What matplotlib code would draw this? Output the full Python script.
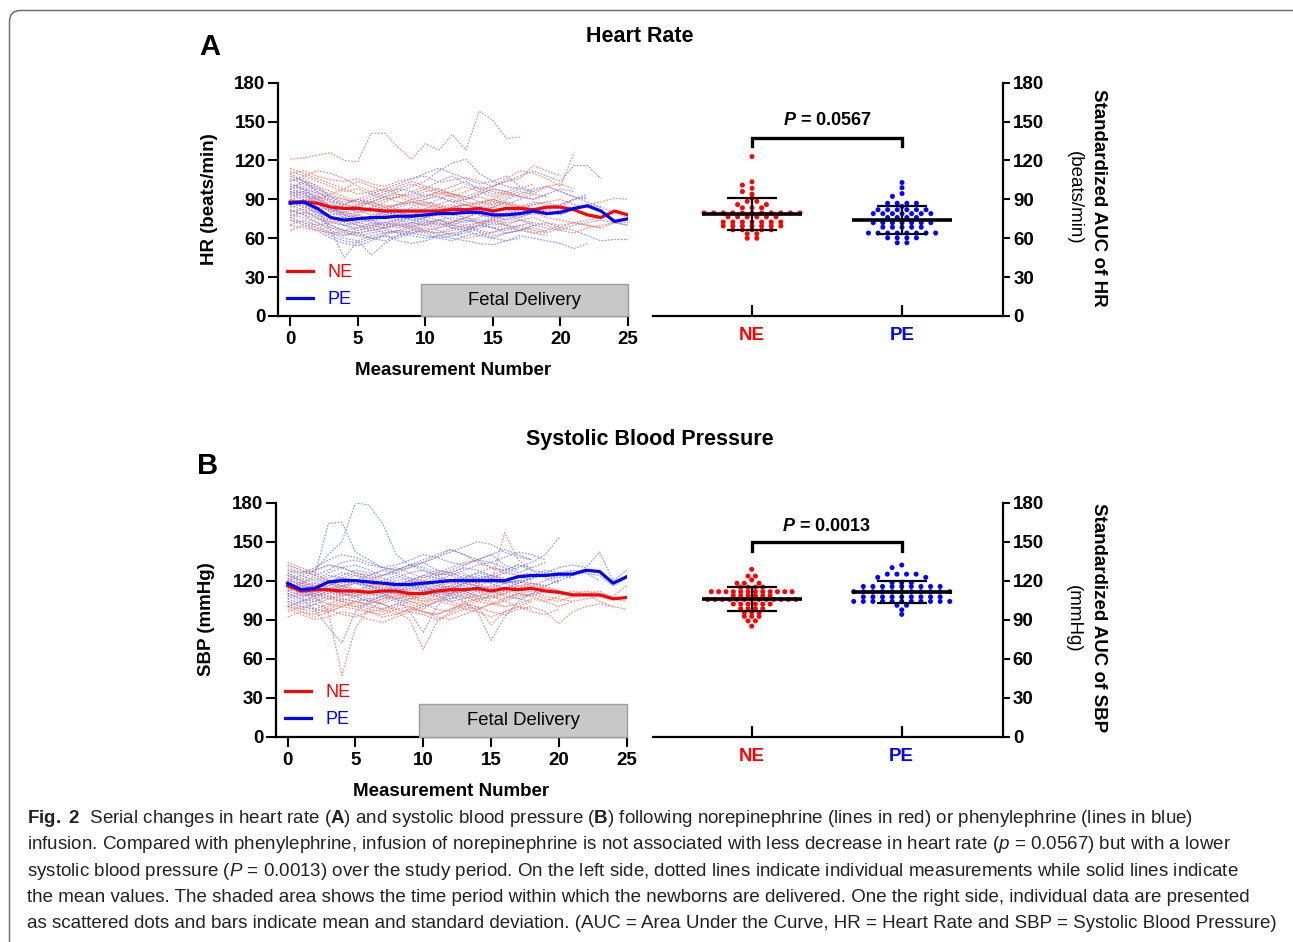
import numpy as np
import matplotlib
matplotlib.use("Agg")
import matplotlib.pyplot as plt
from matplotlib.patches import Rectangle, FancyBboxPatch
from matplotlib.transforms import IdentityTransform

plt.rcParams['font.family'] = 'Liberation Sans'
plt.rcParams['mathtext.fontset'] = 'custom'
plt.rcParams['mathtext.rm'] = 'Liberation Sans'
plt.rcParams['mathtext.bf'] = 'Liberation Sans:bold'
plt.rcParams['mathtext.it'] = 'Liberation Sans:italic'
plt.rcParams['mathtext.bfit'] = 'Liberation Sans:bold:italic'

# ---------------- data ----------------
measurement = list(range(26))

hr_ne_mean = [88, 88, 87, 84, 83, 83, 82, 81, 81, 81, 81, 81, 82, 82, 83, 81, 83, 83, 82, 84, 84, 82, 78, 76, 81, 78]
hr_pe_mean = [87, 88, 83, 76, 74, 75, 76, 76, 77, 77, 78, 79, 79, 80, 80, 78, 78, 79, 81, 79, 80, 83, 85, 81, 73, 75]
sbp_ne_mean = [116, 112, 113, 113, 112, 112, 111, 112, 112, 110, 110, 112, 113, 113, 114, 112, 114, 113, 114, 112, 111, 109, 109, 109, 106, 107]
sbp_pe_mean = [118, 113, 114, 119, 120, 120, 119, 118, 117, 117, 118, 119, 120, 120, 120, 120, 120, 123, 124, 124, 125, 125, 128, 127, 118, 123]

# individual patients (estimated traces, a subset of the spaghetti lines)
hr_ne_indiv = [
    [121, 122, 124, 126, 120, 119, 141, 141, 130, 121, 133, 128, 140, 128, 158, 151, 137, 138],
    [110, 112, 108, 105, 104, 106, 102, 100, 104, 106, 108, 103, 105, 107, 104, 100, 106, 112, 110, 106, 100, 126],
    [95, 96, 92, 88, 86, 90, 88, 84, 86, 88, 90, 92, 88, 85, 87, 90, 86, 84, 88, 86, 84, 82, 86, 88, 91, 90],
    [85, 82, 80, 76, 74, 72, 75, 78, 76, 74, 72, 70, 73, 76, 74, 72, 75, 78, 80, 76, 74, 72, 70, 68, 72, 70],
    [100, 98, 95, 92, 90, 88, 86, 90, 92, 88, 85, 82, 84, 86, 88, 90, 87, 84],
    [78, 76, 72, 68, 66, 64, 66, 68, 70, 67, 65, 64, 66, 68, 65, 62, 64, 66, 68, 65],
    [92, 94, 90, 94, 98, 104, 100, 96, 98, 102, 98, 94, 96, 100, 96, 92, 95],
    [70, 68, 66, 64, 65, 62, 60, 63, 65, 68, 66, 62, 64, 60, 62, 65, 68, 70, 66, 64, 68, 72, 70, 68],
    [88, 86, 84, 82, 80, 78, 82, 84, 80, 78, 80, 84, 82, 86, 84, 80, 82, 84, 86, 88, 90, 86, 84],
    [114, 110, 106, 102, 98, 94, 96, 92, 94, 90, 92, 96, 94, 90, 92, 88, 92, 96, 94, 100, 102, 98],
    [76, 80, 78, 74, 76, 78, 74, 72, 75, 78, 76, 74, 72, 70, 72, 75, 78, 74, 76, 72, 70, 72, 74, 76],
    [104, 108, 112, 110, 106, 100, 96, 98, 94, 92, 96, 98, 94, 92, 96, 100, 104, 106, 116, 112, 108],
    [82, 78, 75, 73, 70, 72, 70, 68, 71, 69, 72, 74, 70, 68, 70, 74, 72],
    [96, 92, 90, 86, 84, 80, 84, 86, 82, 80, 83, 86, 90, 86, 82, 84, 88, 85, 82, 80],
    [112, 108, 104, 100, 96, 98, 94, 90, 92, 96, 100, 98, 94, 90, 94, 98, 96, 92, 90, 94],
    [66, 70, 68, 64, 62, 66, 70, 68, 64, 66, 70, 72, 68, 66, 70, 74, 70, 68, 64, 66, 70],
    [90, 88, 92, 90, 86, 84, 88, 92, 88, 86, 90, 94, 92, 88, 86, 90, 94, 92, 96, 100, 96, 92, 90],
    [80, 84, 82, 78, 80, 76, 74, 78, 82, 80, 76, 80, 84, 82, 78, 76, 80],
    [98, 104, 100, 96, 92, 88, 92, 96, 100, 104, 100, 96, 92, 96, 100, 96, 94, 98, 102],
    [74, 72, 70, 72, 74, 70, 66, 68, 72, 70, 66, 68, 72, 76, 72, 68, 70, 74, 72, 70, 66, 64, 68, 70, 72, 72],
    [86, 90, 88, 84, 82, 84, 80, 76, 78, 82, 86, 84, 80, 78, 82, 86, 84, 80, 78, 82, 86, 90],
    [106, 102, 98, 94, 90, 86, 88, 84, 86, 90, 88, 84, 86, 82, 80, 84, 88],
]
hr_pe_indiv = [
    [104, 106, 100, 92, 86, 84, 88, 92, 96, 100, 104, 112, 118, 121, 110, 104, 100, 98, 96],
    [92, 96, 84, 66, 45, 58, 47, 56, 62, 64, 66, 64, 68, 70, 66, 64, 68, 66, 70, 72, 68, 66, 62, 58, 59, 59],
    [98, 100, 94, 84, 78, 80, 84, 88, 92, 94, 98, 104, 108, 102, 98, 100, 104, 108, 112, 108, 104, 116, 116, 106],
    [86, 90, 80, 72, 70, 68, 70, 72, 74, 72, 70, 74, 76, 74, 72, 74, 78, 76, 80, 82, 78, 82, 86, 84, 80, 76],
    [80, 82, 76, 68, 64, 62, 64, 66, 64, 62, 60, 62, 64, 66, 62, 60, 64, 66, 64, 62],
    [110, 104, 96, 88, 82, 86, 90, 94, 98, 96, 92, 96, 100, 104, 98, 94, 96, 100],
    [76, 72, 68, 62, 58, 56, 60, 62, 58, 56, 58, 62, 60, 58, 56, 55, 58, 60],
    [90, 92, 88, 80, 76, 78, 74, 76, 80, 78, 82, 80, 84, 86, 82, 80, 84, 82, 86, 88, 84, 90, 94],
    [100, 102, 96, 90, 84, 80, 82, 78, 80, 84, 88, 86, 82, 80, 84, 88, 86, 90, 94, 92],
    [84, 86, 78, 70, 66, 64, 66, 68, 70, 72, 70, 68, 70, 74, 72, 70, 72, 74, 70, 68, 66, 70, 72, 74, 72, 70],
    [96, 98, 92, 84, 78, 76, 72, 70, 74, 76, 78, 82, 78, 76, 80, 84, 82, 78, 80],
    [70, 74, 70, 64, 60, 58, 62, 64, 66, 64, 62, 60, 58, 62, 64, 60, 58, 62, 60, 58, 56, 52, 56],
    [88, 84, 80, 76, 72, 70, 68, 72, 70, 68, 72, 74, 70, 68, 72, 76, 74],
    [94, 90, 86, 80, 86, 90, 94, 98, 102, 106, 110, 114, 110, 106, 102, 104, 108, 100, 96],
    [102, 98, 90, 82, 76, 72, 74, 70, 72, 76, 74, 70, 72, 76, 80, 78, 74, 76, 80, 84, 86, 90, 92],
    [82, 78, 72, 66, 62, 64, 60, 58, 62, 66, 64, 60, 62, 66, 70, 68, 64, 66, 70],
    [108, 104, 98, 92, 88, 90, 86, 82, 86, 90, 94, 92, 88, 90, 94, 98, 96, 92, 90, 94, 98, 96],
    [74, 70, 66, 60, 56, 54, 58, 62, 60, 64, 68, 66, 62, 64, 68, 72, 70, 66],
    [94, 96, 90, 84, 80, 82, 78, 80, 84, 88, 86, 90, 94, 92, 88, 86, 90, 94, 98, 100, 96, 92, 88, 84],
    [88, 86, 82, 76, 70, 66, 68, 64, 66, 70, 74, 72, 68, 66, 70, 68, 66, 70, 72],
    [78, 80, 76, 70, 66, 68, 72, 70, 68, 72, 76, 78, 74, 72, 76, 80, 78, 82, 80, 78, 82, 84],
    [98, 94, 88, 82, 78, 74, 76, 80, 78, 74, 76, 80, 84, 82, 78, 76, 80, 84],
]
sbp_ne_indiv = [
    [118, 112, 108, 96, 47, 84, 98, 104, 108, 112, 110, 114, 116, 112, 108, 110, 114, 112],
    [120, 114, 116, 112, 110, 108, 104, 102, 96, 90, 67, 88, 96, 104, 106, 108, 110, 106, 104],
    [112, 118, 122, 118, 114, 112, 116, 118, 114, 112, 116, 120, 124, 126, 120, 118, 157, 136, 128, 122, 118],
    [130, 126, 128, 132, 130, 126, 124, 128, 130, 126, 122, 126, 130, 134, 136, 130, 128, 124, 126],
    [104, 100, 98, 96, 100, 98, 96, 94, 98, 100, 96, 94, 98, 102, 100, 96, 94, 98, 100, 96, 87, 96, 100, 102, 100, 98],
    [110, 106, 104, 108, 106, 104, 102, 106, 108, 104, 100, 104, 106, 108, 104, 102, 104, 108, 110, 106, 104, 108, 110, 112, 106, 104],
    [124, 120, 116, 118, 122, 120, 118, 116, 120, 122, 118, 116, 118, 120, 122, 120, 118, 120, 116, 114, 112, 110, 112, 110, 108, 116],
    [98, 94, 90, 92, 96, 94, 90, 88, 92, 96, 94, 90, 94, 98, 96, 92, 96, 100, 98],
    [134, 130, 126, 120, 116, 118, 120, 124, 128, 130, 134, 138, 144, 140, 134, 130, 126],
    [108, 112, 110, 106, 104, 108, 110, 108, 104, 106, 108, 112, 110, 106, 108, 112, 114, 110, 108, 112, 110],
    [116, 110, 106, 102, 100, 104, 106, 102, 98, 96, 100, 104, 102, 98, 100, 86, 96, 100, 104],
    [100, 104, 108, 112, 116, 114, 110, 112, 116, 118, 114, 112, 116, 120, 118, 114, 112, 116, 118, 114, 112, 108],
    [122, 116, 112, 114, 110, 108, 112, 110, 106, 108, 112, 114, 110, 108, 112, 116, 114, 118],
    [96, 100, 102, 98, 94, 92, 96, 98, 102, 100, 96, 94, 98, 102, 106, 104, 100, 102, 106, 104, 108, 112, 110, 104, 100],
    [126, 122, 118, 114, 116, 120, 118, 114, 112, 116, 120, 118, 114, 116, 120, 124, 120],
    [102, 98, 96, 100, 104, 102, 98, 96, 100, 104, 102, 98, 96, 100, 104, 108, 104, 100, 96, 94, 98],
    [114, 118, 116, 112, 108, 110, 114, 116, 112, 108, 106, 110, 114, 118, 116, 112, 110, 114, 118, 116, 112, 110],
    [92, 96, 94, 98, 102, 100, 96, 92, 94, 98, 96, 92, 90, 94, 98, 102, 100],
    [132, 128, 124, 120, 122, 126, 124, 120, 116, 118, 122, 126, 124, 120, 118, 122, 126, 124, 120],
    [106, 110, 112, 108, 104, 100, 102, 106, 110, 108, 104, 106, 110, 114, 112, 108, 106, 110, 112, 108, 106, 104, 106, 108],
    [118, 114, 110, 106, 108, 112, 116, 114, 110, 106, 104, 108, 112, 110, 106, 108, 112, 116, 114],
    [100, 96, 92, 96, 100, 104, 102, 98, 94, 98, 102, 106, 104, 100, 98, 102, 106, 110, 108, 104, 100, 104],
]
sbp_pe_indiv = [
    [124, 120, 128, 140, 150, 180, 178, 164, 140, 132, 128, 124, 126, 130, 128, 124],
    [120, 118, 124, 164, 165, 142, 136, 130, 128, 132, 134, 128, 126, 130],
    [110, 106, 98, 84, 72, 96, 104, 108, 106, 102, 98, 104, 110, 112, 108, 106, 110],
    [116, 110, 108, 112, 116, 118, 114, 110, 106, 96, 80, 100, 110, 118, 120, 122, 126, 130, 134, 140, 153],
    [128, 124, 120, 126, 130, 132, 128, 124, 126, 130, 134, 138, 142, 146, 150, 148, 142, 138, 136],
    [112, 108, 110, 116, 120, 118, 116, 120, 124, 120, 116, 112, 108, 104, 96, 74, 92, 104, 110, 116, 120],
    [118, 114, 116, 122, 126, 124, 120, 118, 122, 126, 128, 124, 120, 122, 126, 130, 128, 132, 128, 126, 130, 132, 130, 142, 120, 128],
    [106, 102, 104, 108, 112, 110, 106, 108, 112, 114, 112, 110, 114, 118, 116, 114, 118, 120, 118, 116, 120, 124, 126, 124, 116, 122],
    [132, 128, 124, 128, 134, 136, 132, 130, 128, 132, 136, 140, 144, 140, 136, 134, 138, 142, 140, 136],
    [100, 98, 102, 106, 110, 108, 104, 102, 106, 110, 112, 108, 106, 110, 114, 112, 108, 106, 110, 112],
    [122, 116, 118, 124, 122, 120, 124, 128, 126, 122, 120, 124, 128, 132, 136, 140, 132, 128],
    [114, 108, 110, 114, 118, 120, 116, 112, 114, 118, 120, 116, 114, 118, 122, 124, 120, 118, 122, 126, 122, 128, 126, 120],
    [126, 120, 114, 118, 124, 128, 126, 122, 118, 120, 124, 122, 118, 122, 126, 124, 122],
    [108, 104, 106, 110, 114, 112, 110, 114, 118, 116, 112, 116, 120, 124, 122, 118, 114, 118, 122, 124, 126, 128],
    [120, 124, 128, 132, 130, 126, 122, 124, 128, 132, 130, 126, 124, 128, 132, 134, 130, 126, 130, 134],
    [104, 100, 98, 102, 106, 104, 100, 98, 102, 106, 110, 108, 104, 106, 110, 114, 112, 108],
    [128, 126, 130, 136, 140, 138, 134, 130, 132, 136, 140, 138, 134, 132, 136, 140, 144, 140, 136],
    [112, 116, 114, 118, 122, 120, 116, 112, 116, 120, 118, 114, 116, 120, 124, 122, 118, 120, 124, 128, 126, 122],
    [116, 112, 108, 110, 114, 118, 116, 112, 110, 114, 118, 122, 120, 116, 112, 116, 120, 118, 122, 124, 120],
    [124, 118, 112, 116, 120, 124, 122, 118, 116, 120, 124, 128, 126, 122, 120, 124, 128, 132, 130],
    [100, 104, 108, 112, 110, 106, 104, 108, 112, 116, 114, 110, 108, 112, 116, 120, 118, 114, 116, 120, 124, 122],
    [110, 106, 112, 118, 116, 112, 108, 110, 114, 118, 116, 112, 110, 114, 118, 122, 120, 116],
]

# standardized AUC per patient
hr_ne_auc = [123, 103.5, 101, 98.5, 96, 94, 91, 88.5, 88.5, 86, 86, 83.5, 83.5, 83.5,
             79.5, 79.5, 79.5, 79.5, 79.5, 79.5, 79.5, 79.5, 79.5, 79.5, 79.5,
             76.5, 76.5, 76.5, 76.5, 76.5, 76.5,
             72.5, 72.5, 72.5, 72.5, 72.5, 72.5, 72.5,
             69.5, 69.5, 69.5, 69.5, 69.5, 69.5, 69.5,
             66.5, 66.5, 66.5, 66.5, 66.5, 63.5, 63.5, 60, 60]
hr_pe_auc = [103, 99, 94.5, 92.3, 87, 87, 87, 87, 84.5,
             82, 82, 82, 82, 82, 82, 79, 79, 79, 79, 79, 79, 79, 76, 76, 76, 76,
             72, 72, 72, 72, 72, 72, 72, 68.5, 68.5, 68.5, 68.5, 68.5,
             64, 64, 64, 64, 64, 64, 64, 64, 60.3, 60.3, 60.3, 60.3, 56.5, 56.5]
sbp_ne_auc = [128.7, 123.5, 123.5, 120.5, 118, 118, 118, 115, 115, 115, 115,
              111.5, 111.5, 111.5, 111.5, 111.5, 111.5, 111.5, 111.5, 111.5, 111.5, 111.5, 111.5,
              108.5, 108.5, 108.5, 108.5, 108.5, 108.5,
              105.5, 105.5, 105.5, 105.5, 105.5, 105.5, 105.5, 105.5, 105.5, 105.5, 105.5, 105.5, 105.5,
              102, 102, 102, 102, 102, 102, 98.5, 98.5, 98.5, 98.5,
              95.5, 95.5, 95.5, 92.5, 92.5, 92.5, 89, 89, 85]
sbp_pe_auc = [132, 130, 125, 125, 125, 125, 122.5, 122.5, 118.5, 118.5, 118.5,
              115.5, 115.5, 115.5, 115.5, 115.5, 115.5, 115.5, 115.5, 115.5,
              111.5, 111.5, 111.5, 111.5, 111.5, 111.5, 111.5, 111.5, 111.5, 111.5, 111.5,
              107.5, 107.5, 107.5, 107.5, 107.5, 107.5, 107.5, 107.5, 107.5,
              104, 104, 104, 104, 104, 104, 104, 104, 104, 104, 104, 101, 101, 97.5, 94]

# mean and SD of AUC (as drawn)
hr_auc_mean = [78.7, 74.1]
hr_auc_sd = [12.5, 11.0]
sbp_auc_mean = [105.8, 111.4]
sbp_auc_sd = [9.1, 8.3]

groups = ['NE', 'PE']
p_hr_value = '0.0567'
p_sbp_value = '0.0013'

RED = '#ff0000'
BLUE = '#0000ff'
LRED = '#f2705e'
LBLUE = '#6f80f2'


def swarm(values, thr):
    # GraphPad-like row layout: identical values form a row
    vals = np.asarray(values, dtype=float)
    offs = np.zeros(len(vals))
    placed = []
    for v in sorted(set(vals), reverse=True):
        idx = np.where(vals == v)[0]
        n = len(idx)
        base = 0.0 if n % 2 else 0.5
        cands = [0.0] if base == 0 else []
        for k in range(0, 40):
            step = k + base
            if step == 0:
                continue
            cands += [-step, step]
        chosen = []
        for c in cands:
            if any(abs(c - o) < 0.5 and abs(v - pv) < thr for o, pv in placed):
                continue
            chosen.append(c)
            if len(chosen) == n:
                break
        for i, c in zip(idx, chosen):
            offs[i] = c
            placed.append((c, v))
    return offs


def series_panel(ax, ne_indiv, pe_indiv, ne_mean, pe_mean, ylabel, xmin):
    for i in range(max(len(ne_indiv), len(pe_indiv))):
        if i < len(ne_indiv):
            ax.plot(range(len(ne_indiv[i])), ne_indiv[i], color=LRED, lw=0.85,
                    ls=(0, (1.5, 1.2)), alpha=0.8, zorder=1)
        if i < len(pe_indiv):
            ax.plot(range(len(pe_indiv[i])), pe_indiv[i], color=LBLUE, lw=0.85,
                    ls=(0, (1.5, 1.2)), alpha=0.8, zorder=1)
    l_ne, = ax.plot(measurement, ne_mean, color=RED, lw=2.3, zorder=3)
    l_pe, = ax.plot(measurement, pe_mean, color=BLUE, lw=2.3, zorder=3)

    ax.add_patch(Rectangle((9.7, 0), 15.3, 24.7, fc='#c8c8c8', ec='#9c9c9c', lw=1.0,
                           zorder=4, clip_on=False))
    ax.text(17.35, 12.3, 'Fetal Delivery', ha='center', va='center', fontsize=13.3, zorder=5)

    ax.legend(handles=[l_ne, l_pe], labels=groups, loc='lower left',
              bbox_to_anchor=(0.026, 0.035), frameon=False, labelcolor='linecolor',
              fontsize=13, handlelength=1.45, handletextpad=0.8, labelspacing=0.55,
              borderpad=0, borderaxespad=0)

    ax.set_xlim(xmin, 25)
    ax.set_ylim(0, 180)
    ax.set_xticks([0, 5, 10, 15, 20, 25])
    ax.set_yticks(np.arange(0, 181, 30))
    for s in ['top', 'right']:
        ax.spines[s].set_visible(False)
    for s in ['left', 'bottom']:
        ax.spines[s].set_linewidth(1.6)
    ax.tick_params(direction='out', length=7, width=1.5, labelsize=13.5, pad=2)
    ax.tick_params(axis='x', pad=4)
    for lbl in ax.get_xticklabels() + ax.get_yticklabels():
        lbl.set_fontweight('bold')
    ax.set_ylabel(ylabel, fontsize=13.5, fontweight='bold', va='center')
    ax.yaxis.set_label_coords(-0.197, 0.5)
    ax.set_xlabel('Measurement Number', fontsize=13.5, fontweight='bold', va='center')
    ax.xaxis.set_label_coords(0.5, -0.235)


def auc_panel(ax, ne_auc, pe_auc, means, sds, steps, p_value, bracket_y, text_y):
    for k, (vals, col, step) in enumerate(zip([ne_auc, pe_auc], [RED, BLUE], steps)):
        offs = swarm(vals, 2.8)
        ax.scatter(k + offs * step, vals, s=13, color=col, edgecolors='none', zorder=2)
        ax.plot([k - 0.333, k + 0.333], [means[k], means[k]], color='black', lw=2.6,
                solid_capstyle='butt', zorder=3)
        for yy in [means[k] - sds[k], means[k] + sds[k]]:
            ax.plot([k - 0.167, k + 0.167], [yy, yy], color='black', lw=1.6,
                    solid_capstyle='butt', zorder=3)
        ax.plot([k, k], [means[k] - sds[k], means[k] + sds[k]], color='black', lw=1.6, zorder=3)

    ax.plot([0, 0, 1, 1], [bracket_y - 6.5, bracket_y, bracket_y, bracket_y - 6.5],
            color='black', lw=2.4, solid_joinstyle='miter', zorder=3)
    ax.text(0.5, text_y, r'$\mathbfit{P}$ = ' + p_value, ha='center', va='center',
            fontsize=13, fontweight='bold')

    ax.set_xlim(-0.66, 1.673)
    ax.set_ylim(0, 180)
    ax.set_xticks([0, 1])
    ax.set_xticklabels(groups, fontweight='bold', fontsize=13.5)
    for lbl, col in zip(ax.get_xticklabels(), [RED, BLUE]):
        lbl.set_color(col)
    ax.set_yticks(np.arange(0, 181, 30))
    ax.yaxis.tick_right()
    for s in ['top', 'left']:
        ax.spines[s].set_visible(False)
    for s in ['right', 'bottom']:
        ax.spines[s].set_linewidth(1.6)
    ax.tick_params(axis='x', direction='in', length=8, width=1.6, pad=8)
    ax.tick_params(axis='y', direction='out', length=5.3, width=1.5, pad=2, labelsize=13.5)
    for lbl in ax.get_yticklabels():
        lbl.set_fontweight('bold')


W, H = 1293, 942
fig = plt.figure(figsize=(W / 100, H / 100), dpi=100)


def px_axes(x0, x1, ytop, ybot):
    return fig.add_axes([x0 / W, 1 - ybot / H, (x1 - x0) / W, (ybot - ytop) / H])


ax_a1 = px_axes(278, 628, 82.7, 316)
ax_a2 = px_axes(653, 1003, 82.7, 316)
ax_b1 = px_axes(276, 626.7, 502.7, 736.5)
ax_b2 = px_axes(652.7, 1002.7, 502.7, 736.5)

series_panel(ax_a1, hr_ne_indiv, hr_pe_indiv, hr_ne_mean, hr_pe_mean, 'HR (beats/min)', -0.9)
series_panel(ax_b1, sbp_ne_indiv, sbp_pe_indiv, sbp_ne_mean, sbp_pe_mean, 'SBP (mmHg)', -0.86)
auc_panel(ax_a2, hr_ne_auc, hr_pe_auc, hr_auc_mean, hr_auc_sd, [0.064, 0.064],
          p_hr_value, 137.5, 150.5)
auc_panel(ax_b2, sbp_ne_auc, sbp_pe_auc, sbp_auc_mean, sbp_auc_sd, [0.049, 0.064],
          p_sbp_value, 149.5, 162)

# titles, panel letters, right-hand axis titles
fig.text(640 / W, 1 - 36 / H, 'Heart Rate', ha='center', va='center', fontsize=15.5, fontweight='bold')
fig.text(650 / W, 1 - 440 / H, 'Systolic Blood Pressure', ha='center', va='center',
         fontsize=15.5, fontweight='bold')
fig.text(210 / W, 1 - 47 / H, 'A', ha='center', va='center', fontsize=21, fontweight='bold')
fig.text(208 / W, 1 - 466 / H, 'B', ha='center', va='center', fontsize=21, fontweight='bold')
fig.text(1098 / W, 1 - 198 / H, 'Standardized AUC of HR', rotation=270, ha='center', va='center',
         fontsize=13.5, fontweight='bold')
fig.text(1074 / W, 1 - 198 / H, '(beats/min)', rotation=270, ha='center', va='center', fontsize=13.5)
fig.text(1098 / W, 1 - 618 / H, 'Standardized AUC of SBP', rotation=270, ha='center', va='center',
         fontsize=13.5, fontweight='bold')
fig.text(1073 / W, 1 - 619 / H, '(mmHg)', rotation=270, ha='center', va='center', fontsize=13.5)

# caption
caption = [
    r'$\mathbf{Fig.\ 2}$  Serial changes in heart rate ($\mathbf{A}$) and systolic blood pressure ($\mathbf{B}$) '
    'following norepinephrine (lines in red) or phenylephrine (lines in blue)',
    r'infusion. Compared with phenylephrine, infusion of norepinephrine is not associated with less decrease '
    r'in heart rate ($\mathit{p}$ = 0.0567) but with a lower',
    r'systolic blood pressure ($\mathit{P}$ = 0.0013) over the study period. On the left side, dotted lines '
    'indicate individual measurements while solid lines indicate',
    'the mean values. The shaded area shows the time period within which the newborns are delivered. '
    'One the right side, individual data are presented',
    'as scattered dots and bars indicate mean and standard deviation. (AUC = Area Under the Curve, '
    'HR = Heart Rate and SBP = Systolic Blood Pressure)',
]
baselines = [823, 849, 875.5, 902, 928]
cap_texts = [fig.text(27 / W, 1 - b / H, line, ha='left', va='baseline', fontsize=12, color='#222222')
             for line, b in zip(caption, baselines)]
fig.canvas.draw()
rend = fig.canvas.get_renderer()
widest = max(t.get_window_extent(rend).width for t in cap_texts)
for t in cap_texts:
    t.set_fontsize(12 * 1253 / widest)

# rounded frame around the figure
fig.patches.append(FancyBboxPatch((9.5, -30), 1300, H - 10.5 + 30,
                                  boxstyle='round,pad=0,rounding_size=11',
                                  transform=IdentityTransform(), fc='none', ec='#707070', lw=1.1))

fig.savefig('out.png', dpi=100)
